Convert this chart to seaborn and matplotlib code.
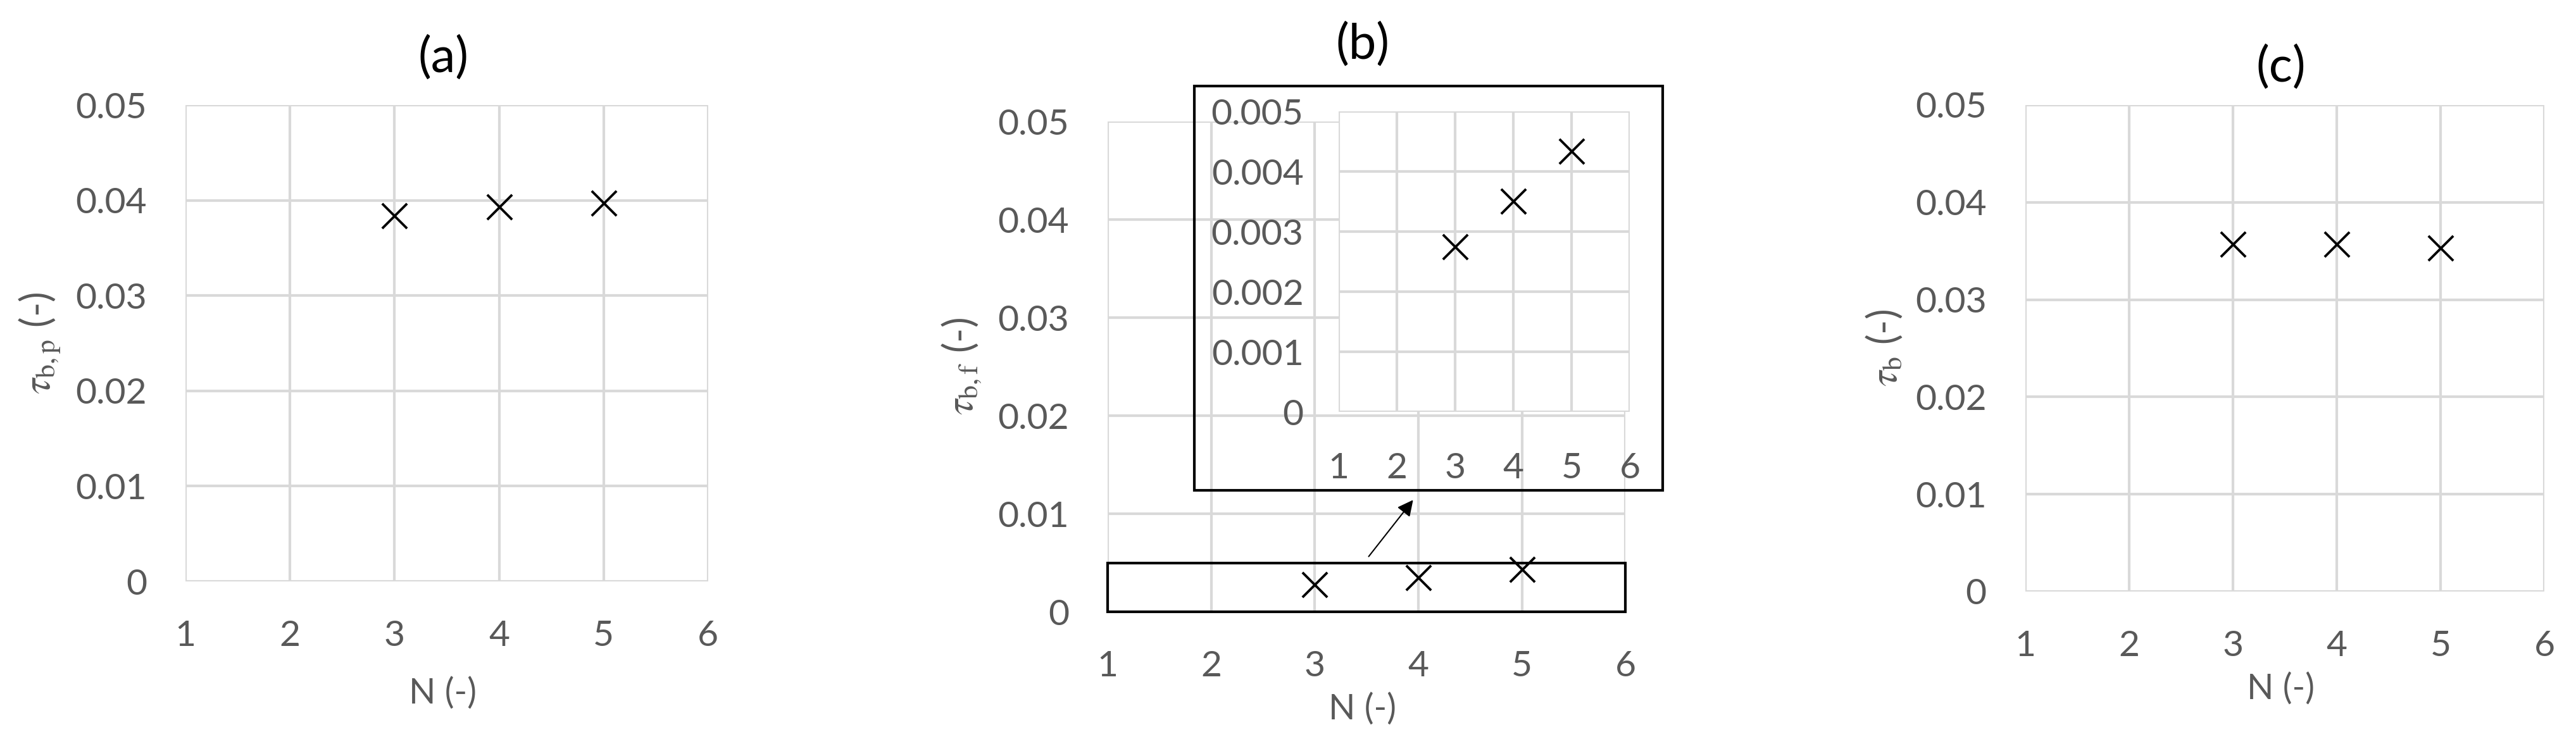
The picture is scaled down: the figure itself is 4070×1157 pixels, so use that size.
"""
Three-panel scatter of tau vs N, with a zoomed inset in panel (b)
"""

import matplotlib
matplotlib.use('Agg')
import matplotlib.pyplot as plt
from matplotlib.patches import Rectangle
import seaborn as sns

# Data
N = [3, 4, 5]
tau_bp = [0.0384, 0.0393, 0.0397]
tau_bf = [0.00275, 0.00351, 0.00434]
tau_b = [0.0357, 0.0357, 0.0353]

x_ticks = [1, 2, 3, 4, 5, 6]
y_ticks = [0, 0.01, 0.02, 0.03, 0.04, 0.05]
y_ticks_inset = [0, 0.001, 0.002, 0.003, 0.004, 0.005]
titles = ['(a)', '(b)', '(c)']
ylabels = [r'$\tau_{\mathrm{b,p}}$ (-)', r'$\tau_{\mathrm{b,f}}$ (-)', r'$\tau_{\mathrm{b}}$ (-)']

# Style
sns.set_style("whitegrid")
plt.rcParams['font.family'] = ['Lato', 'DejaVu Sans']
plt.rcParams['mathtext.fontset'] = 'stix'

GRID = '#D9D9D9'
TXT = '#595959'
TICK_FS = 41
LABEL_FS = 40
YLABEL_FS = 45
TITLE_FS = 56


def style_axes(ax, yticks, ylim):
    ax.set_xlim(1, 6)
    ax.set_ylim(*ylim)
    ax.set_xticks(x_ticks)
    ax.set_yticks(yticks)
    ax.set_yticklabels([f'{t:g}' for t in yticks])
    ax.grid(True, color=GRID, linewidth=3)
    for s in ax.spines.values():
        s.set_visible(False)
    ax.tick_params(axis='both', length=0, labelsize=TICK_FS, colors=TXT)
    ax.tick_params(axis='y', pad=44)
    ax.tick_params(axis='x', pad=44)
    ax.set_facecolor('white')


def scatter(ax, y):
    sns.scatterplot(x=N, y=y, ax=ax, marker='x', s=800, color='black',
                    linewidth=2.8, zorder=5, clip_on=False)


fig = plt.figure(figsize=(40.7, 11.57), dpi=100)

# axes rectangles in figure fractions
ax_a = fig.add_axes([0.0720, 0.2057, 0.2029, 0.6508])
ax_b = fig.add_axes([0.4300, 0.1642, 0.2010, 0.6698])
ax_c = fig.add_axes([0.7862, 0.1919, 0.2015, 0.6647])

data = [tau_bp, tau_bf, tau_b]
title_y = [1.098, 1.157, 1.077]
ylab_x = [-0.236, -0.241, -0.234]
xlab_y = [-0.20, -0.165, -0.166]

for ax, y, t, yl, ty, lx, ly in zip([ax_a, ax_b, ax_c], data, titles, ylabels,
                                    title_y, ylab_x, xlab_y):
    style_axes(ax, y_ticks, (0, 0.05))
    scatter(ax, y)
    ax.text(0.493, ty, t, transform=ax.transAxes, ha='center', va='center',
            fontsize=TITLE_FS, color='black')
    ax.set_ylabel(yl, fontsize=YLABEL_FS, color=TXT)
    ax.yaxis.set_label_coords(lx, 0.5)
    ax.set_xlabel('N (-)', fontsize=LABEL_FS, color=TXT)
    ax.xaxis.set_label_coords(0.492, ly)

# Box marking the zoomed region in (b)
ax_b.add_patch(Rectangle((1, 0), 5, 0.005, fill=False, edgecolor='black',
                         linewidth=3, zorder=6, clip_on=False))
ax_b.annotate('', xy=(3.96, 0.01155), xytext=(3.51, 0.0055),
              arrowprops=dict(arrowstyle='-|>', color='black', lw=1.5,
                              mutation_scale=38))

# Inset frame and inset axes
fig.add_artist(Rectangle((0.4636, 0.3302), 0.1818, 0.5523, fill=False,
                         edgecolor='black', linewidth=3,
                         transform=fig.transFigure, zorder=10))
ax_in = fig.add_axes([0.5197, 0.4373, 0.1130, 0.4105])
style_axes(ax_in, y_ticks_inset, (0, 0.005))
ax_in.tick_params(axis='y', pad=40)
ax_in.tick_params(axis='x', pad=46)
scatter(ax_in, tau_bf)
ax_in.set_xlabel('')
ax_in.set_ylabel('')

plt.savefig('out.png', dpi=100)
plt.close()
